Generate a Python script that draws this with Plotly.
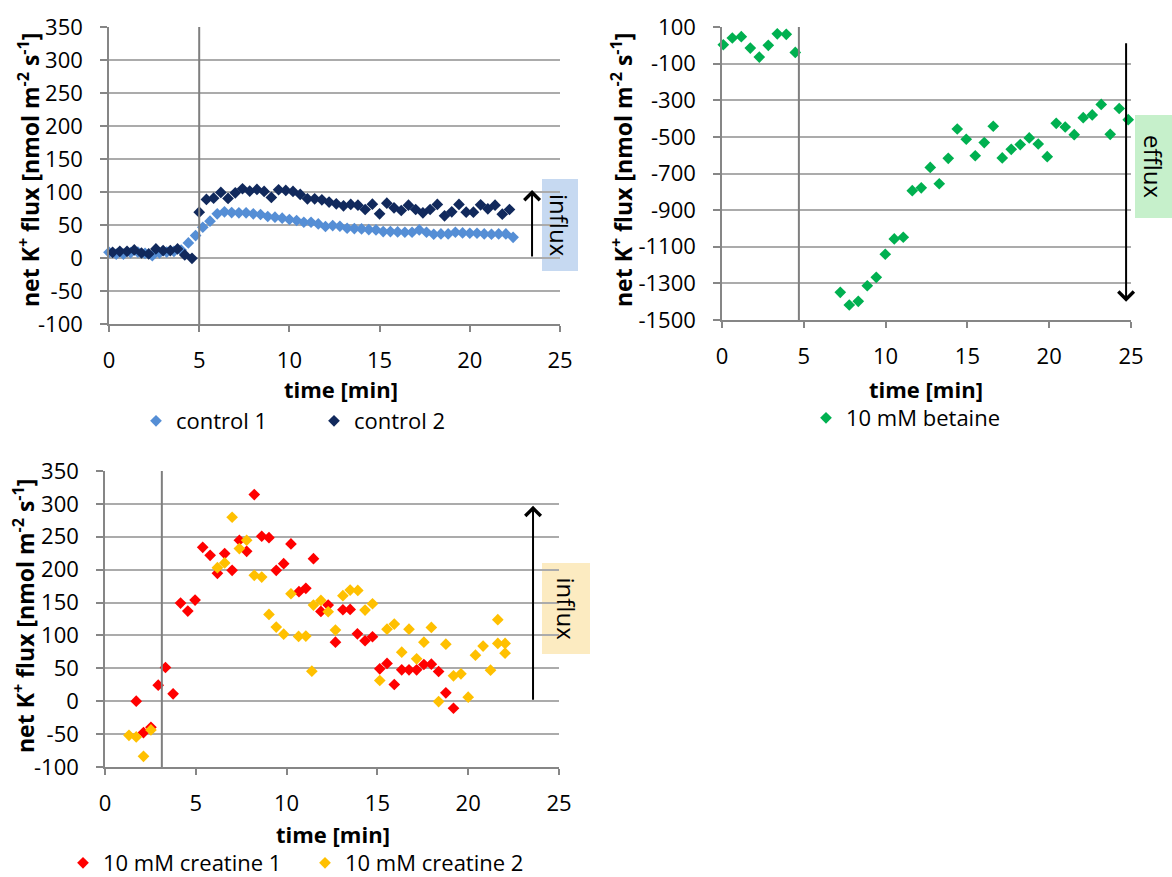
import plotly.graph_objects as go

W, H = 1172, 877
FONT = "Open Sans"

# ---------------- data ----------------
control1_time = [0.0, 0.4, 0.8, 1.2, 1.6, 2.0, 2.4, 2.8, 3.2, 3.6, 4.0, 4.4, 4.8, 5.2, 5.6, 6.0,
                 6.4, 6.8, 7.2, 7.6, 8.0, 8.4, 8.8, 9.2, 9.6, 10.0, 10.4, 10.8, 11.2, 11.6, 12.0,
                 12.4, 12.8, 13.2, 13.6, 14.0, 14.4, 14.8, 15.2, 15.6, 16.0, 16.4, 16.8, 17.2,
                 17.6, 18.0, 18.4, 18.8, 19.2, 19.6, 20.0, 20.4, 20.8, 21.2, 21.6, 22.0, 22.4]
control1_flux = [8.6, 6, 6, 8, 9, 7, 3.5, 7.6, 9, 10, 12, 22.8, 34, 46.6, 55.8, 66.9, 70, 68.9,
                 68.4, 68.4, 66.9, 65.9, 62.9, 61.9, 60.3, 58.3, 56.8, 54.2, 54.2, 51.7, 47.7,
                 49.2, 48.1, 45.1, 44.6, 44.1, 43.1, 42.6, 40.1, 40.1, 39.5, 39, 39, 42.6, 39,
                 36, 36.5, 36.5, 39, 38, 37.5, 37.5, 36.5, 36, 36.5, 36.5, 31.4]

control2_time = [0.2, 0.6, 1.0, 1.4, 1.8, 2.2, 2.6, 3.0, 3.4, 3.8, 4.2, 4.6, 5.0, 5.4, 5.8, 6.2,
                 6.6, 7.0, 7.4, 7.8, 8.2, 8.6, 9.0, 9.4, 9.8, 10.2, 10.6, 11.0, 11.4, 11.8, 12.2,
                 12.6, 13.0, 13.4, 13.8, 14.2, 14.6, 15.0, 15.4, 15.8, 16.2, 16.6, 17.0, 17.4,
                 17.8, 18.2, 18.6, 19.0, 19.4, 19.8, 20.2, 20.6, 21.0, 21.4, 21.8, 22.2]
control2_flux = [8.6, 10.1, 10.1, 12.2, 7.6, 6.1, 13.7, 11.2, 11.2, 13.7, 4.6, -0.5, 69.4, 88.7,
                 90.7, 99.4, 90.2, 98.8, 104.9, 101.4, 103.9, 100.9, 91.8, 103.4, 102.4, 100.9,
                 96.3, 89.7, 89.7, 88.2, 84.7, 82.1, 79.1, 81.1, 80.1, 73.5, 81.6, 66.9, 83.1,
                 76.0, 72.0, 80.1, 73.5, 68.4, 73.5, 81.1, 63.9, 70.0, 81.1, 69.5, 69.5, 80.6,
                 74.5, 80.1, 66.4, 73.5]

betaine_time = [0.08, 0.63, 1.18, 1.73, 2.28, 2.83, 3.38, 3.93, 4.48,
                7.23, 7.78, 8.33, 8.88, 9.43, 9.98, 10.53, 11.08, 11.63, 12.18, 12.73, 13.28,
                13.83, 14.38, 14.93, 15.48, 16.03, 16.58, 17.13, 17.68, 18.23, 18.78, 19.33,
                19.88, 20.43, 20.98, 21.53, 22.08, 22.63, 23.18, 23.73, 24.28, 24.83]
betaine_flux = [3, 40, 47, -15, -64, 0, 63, 60, -39,
                -1349, -1418, -1398, -1313, -1267, -1141, -1057, -1048, -794, -778, -667, -756,
                -617, -457, -513, -603, -531, -442, -615, -568, -542, -506, -539, -608, -426,
                -446, -488, -395, -380, -323, -486, -345, -406]

creatine1_time = [1.72, 2.12, 2.53, 2.93, 3.33, 3.75, 4.16, 4.56, 4.96, 5.38, 5.79, 6.19, 6.59,
                  7.0, 7.4, 7.8, 8.22, 8.63, 9.03, 9.43, 9.84, 10.24, 10.68, 11.06, 11.48, 11.89,
                  12.29, 12.69, 13.1, 13.5, 13.9, 14.32, 14.73, 15.13, 15.53, 15.93, 16.34,
                  16.74, 17.16, 17.56, 17.97, 18.37, 18.77, 19.19]
creatine1_flux = [0, -47.7, -39.6, 24.4, 51.3, 11.2, 149.2, 137.1, 153.8, 234, 221.8, 194.4,
                  224.4, 199, 244.7, 227.9, 314.2, 250.8, 248.7, 199, 209.1, 239.1, 166.5, 171.6,
                  216.7, 136.5, 146.2, 89.8, 139.1, 139.6, 102.5, 91.9, 98, 49.2, 57.4, 25.4,
                  47.7, 47.7, 47.7, 55.8, 56.3, 45.2, 12.7, -10.7]

creatine2_time = [1.32, 1.72, 2.12, 2.53, 6.19, 6.59, 7.0, 7.4, 7.8, 8.22, 8.63, 9.03, 9.43,
                  9.84, 10.24, 10.66, 11.06, 11.39, 11.48, 11.89, 12.29, 12.69, 13.1, 13.5,
                  13.92, 14.32, 14.73, 15.13, 15.53, 15.93, 16.34, 16.74, 17.16, 17.56, 17.97,
                  18.37, 18.77, 19.19, 19.6, 20.0, 20.4, 20.82, 21.23, 21.63, 21.63, 22.03, 22.03]
creatine2_flux = [-51.8, -54.3, -83.8, -43.7, 203, 210.2, 279.7, 232, 244.7, 191.4, 188.8, 132,
                  112.7, 102, 163.4, 98.5, 99, 45.7, 146.2, 153.3, 136, 108.1, 160.4, 169,
                  168.5, 138.6, 148.2, 31.5, 109.6, 117.3, 74.6, 109.6, 64.5, 89.8, 112.2, -0.5,
                  86.8, 38.6, 41.6, 6.1, 70, 83.8, 47.2, 123.9, 87.8, 87.8, 73.1]

treatment_time = [5.0, 4.7, 3.13]        # vertical marker lines (min)
arrow_time = [23.45, 24.7, 23.57]          # x position of flux-direction arrows
arrow_from = [0, 20, 0]
arrow_to = [103, -1400, 297]

x_ticks = [0, 5, 10, 15, 20, 25]
y_ticks_small = [-100, -50, 0, 50, 100, 150, 200, 250, 300, 350]
y_ticks_betaine = [-1500, -1300, -1100, -900, -700, -500, -300, -100, 100]
y_labels_small = ["-100", "-50", "0", "50", "100", "150", "200", "250", "300", "350"]
y_labels_betaine = ["-1500", "-1300", "-1100", "-900", "-700", "-500", "-300", "-100", "100"]

C_CTRL1 = "#558ED5"
C_CTRL2 = "#11295C"
C_BET = "#00B050"
C_CR1 = "#FF0000"
C_CR2 = "#FFC000"

def px(x):
    return x / W

def py(y):
    return 1 - y / H

fig = go.Figure()

def add(x, y, name, color, xa, ya, leg):
    fig.add_trace(go.Scatter(
        x=x, y=y, mode="markers", name=name,
        marker=dict(symbol="diamond", size=9, color=color, line=dict(width=0)),
        xaxis=xa, yaxis=ya, legend=leg, cliponaxis=False))

add(control1_time, control1_flux, "control 1", C_CTRL1, "x", "y", "legend")
add(control2_time, control2_flux, "control 2", C_CTRL2, "x", "y", "legend")
add(betaine_time, betaine_flux, "10 mM betaine", C_BET, "x2", "y2", "legend2")
add(creatine1_time, creatine1_flux, "10 mM creatine 1", C_CR1, "x3", "y3", "legend3")
add(creatine2_time, creatine2_flux, "10 mM creatine 2", C_CR2, "x3", "y3", "legend3")

AX_COLOR = "#868686"
GRID_COLOR = "#ABABAB"
tickfont = dict(family=FONT, size=22, color="black")

def xax(domain, anchor):
    return dict(domain=domain, anchor=anchor, range=[0, 25], tickvals=x_ticks,
                showgrid=False, zeroline=False, showline=True, linecolor=AX_COLOR,
                linewidth=1.5, ticks="outside", ticklen=6, tickwidth=1.5,
                tickcolor=AX_COLOR, tickfont=tickfont, ticklabelstandoff=10)

def yax(domain, anchor, rng, tickvals, ticktext):
    return dict(domain=domain, anchor=anchor, range=rng, tickvals=tickvals, ticktext=ticktext,
                showgrid=True, gridcolor=GRID_COLOR, gridwidth=1.5, zeroline=False,
                showline=True, linecolor=AX_COLOR, linewidth=1.5, ticks="outside",
                ticklen=7, tickwidth=1.5, tickcolor=AX_COLOR, tickfont=tickfont,
                ticklabelstandoff=13)

layout = dict(
    width=W, height=H, margin=dict(l=0, r=0, t=0, b=0, pad=0, autoexpand=False),
    paper_bgcolor="white", plot_bgcolor="white",
    font=dict(family=FONT, color="black"),
    xaxis=xax([px(109), px(560)], "y"),
    yaxis=yax([py(324), py(27)], "x", [-100, 350], y_ticks_small, y_labels_small),
    xaxis2=xax([px(722), px(1131)], "y2"),
    yaxis2=yax([py(320), py(27)], "x2", [-1500, 100], y_ticks_betaine, y_labels_betaine),
    xaxis3=xax([px(105), px(559)], "y3"),
    yaxis3=yax([py(767), py(471)], "x3", [-100, 350], y_ticks_small, y_labels_small),
)

legfont = dict(family=FONT, size=22, color="black")
layout["legend"] = dict(orientation="h", x=px(136), y=py(421), xanchor="left", yanchor="middle",
                        font=legfont, entrywidth=133, entrywidthmode="pixels",
                        bgcolor="rgba(0,0,0,0)", itemwidth=30)
layout["legend2"] = dict(orientation="h", x=px(806), y=py(418), xanchor="left", yanchor="middle",
                         font=legfont, bgcolor="rgba(0,0,0,0)", itemwidth=30)
layout["legend3"] = dict(orientation="h", x=px(63), y=py(863), xanchor="left", yanchor="middle",
                         font=legfont, entrywidth=197, entrywidthmode="pixels",
                         bgcolor="rgba(0,0,0,0)", itemwidth=30)
fig.update_layout(**layout)

# vertical treatment lines
for t, xr, yr in zip(treatment_time, ["x", "x2", "x3"], ["y", "y2", "y3"]):
    fig.add_shape(type="line", xref=xr, yref=f"{yr} domain", x0=t, x1=t, y0=0, y1=1,
                  line=dict(color="#7F7F7F", width=2))

# coloured label boxes
boxes = [
    (542, 578, 179, 271, "#C6D9F1", "influx"),
    (1135, 1172, 115, 218, "#C6F0CB", "efflux"),
    (542, 590, 563, 654, "#FCEBC1", "influx"),
]
for x0, x1, y0, y1, col, txt in boxes:
    fig.add_shape(type="rect", xref="paper", yref="paper", x0=px(x0), x1=px(x1),
                  y0=py(y1), y1=py(y0), fillcolor=col, line=dict(width=0), layer="below")
    fig.add_annotation(xref="paper", yref="paper", x=px((x0 + x1) / 2), y=py((y0 + y1) / 2),
                       text=txt, textangle=90, showarrow=False,
                       font=dict(family=FONT, size=24, color="black"),
                       xanchor="center", yanchor="middle")

# arrows
for t, a0, a1, xr, yr in zip(arrow_time, arrow_from, arrow_to, ["x", "x2", "x3"], ["y", "y2", "y3"]):
    fig.add_annotation(xref=xr, yref=yr, x=t, y=a1, axref=xr, ayref=yr, ax=t, ay=a0,
                       text="", showarrow=True, arrowhead=4, arrowsize=1.5, arrowwidth=2,
                       arrowcolor="black", standoff=0, startstandoff=0)

# axis titles
ytitle = "<b>net K<sup>+</sup> flux [nmol m<sup>-2</sup> s<sup>-1</sup>]</b>"
xtitle = "<b>time [min]</b>"
tfont_y = dict(family=FONT, size=23, color="black")
tfont_x = dict(family=FONT, size=22, color="black")
for (x, y) in [(29, 170), (622, 170), (24, 616)]:
    fig.add_annotation(xref="paper", yref="paper", x=px(x), y=py(y), text=ytitle,
                       textangle=-90, showarrow=False, font=tfont_y,
                       xanchor="center", yanchor="middle")
for (x, y) in [(341, 389), (926, 389), (333, 834)]:
    fig.add_annotation(xref="paper", yref="paper", x=px(x), y=py(y), text=xtitle,
                       showarrow=False, font=tfont_x, xanchor="center", yanchor="middle")

fig.write_html("out.html", config={"displayModeBar": False},
               post_script="document.body.style.margin='0px';document.body.style.padding='0px';")
